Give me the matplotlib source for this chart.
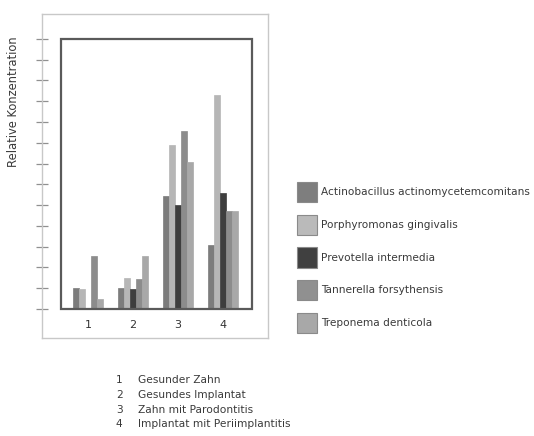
import matplotlib
matplotlib.use("Agg")
import matplotlib.pyplot as plt
from matplotlib.patches import Rectangle, Patch
import numpy as np

plt.rcParams['font.family'] = ['DejaVu Sans']

# data (relative concentration)
categories = ["1", "2", "3", "4"]
species = ["Actinobacillus actinomycetemcomitans", "Porphyromonas gingivalis",
           "Prevotella intermedia", "Tannerella forsythensis", "Treponema denticola"]
actino = [1.0, 1.0, 5.45, 3.1]
porphy = [0.95, 1.5, 7.9, 10.3]
prevo = [0.05, 0.95, 5.0, 5.6]
tanner = [2.55, 1.45, 8.55, 4.7]
trepo = [0.5, 2.55, 7.05, 4.7]
series = [actino, porphy, prevo, tanner, trepo]
colors = ["#7c7c7c", "#b6b6b6", "#3e3e3e", "#8c8c8c", "#a8a8a8"]
legend_colors = ["#7e7e7e", "#bababa", "#404040", "#909090", "#a8a8a8"]
group_names = ["Gesunder Zahn", "Gesundes Implantat", "Zahn mit Parodontitis",
               "Implantat mit Periimplantitis"]

fig = plt.figure(figsize=(5.34, 4.36), dpi=100)
ax = fig.add_axes([42/534, 1-338/436, 226/534, 324/436])

x = np.arange(1, len(categories) + 1)
w = 0.133
for i, (vals, c) in enumerate(zip(series, colors)):
    ax.bar(x + (i - 2) * w, vals, width=w, color=c, edgecolor=c, linewidth=0.5, zorder=2)

ax.set_xlim(-0.02, 5.0)
ax.set_ylim(-1.40, 14.2)

# inner box
ax.add_patch(Rectangle((0.4, 0), 4.24, 13, fill=False, edgecolor="#5a5a5a", linewidth=1.6, zorder=3))

# group labels inside the frame
for xi, lab in zip(x, categories):
    ax.text(xi, -0.77, lab, ha="center", va="center", fontsize=8, color="#333333")

ax.set_xticks([])
ax.set_yticks(np.arange(0, 14))
ax.set_yticklabels([])
ax.tick_params(axis="y", direction="inout", length=9, width=0.9, color="#909090")
for s in ax.spines.values():
    s.set_color("#c8c8c8")
    s.set_linewidth(1.0)

fig.text(14/534, 1-102/436, "Relative Konzentration", rotation=90, ha="center", va="center",
         fontsize=8.3, color="#3a3a3a")

handles = [Patch(facecolor=c, edgecolor="#8a8a8a", linewidth=0.8) for c in legend_colors]
fig.legend(handles, species, loc="upper left", bbox_to_anchor=(297/534, 1-182/436),
           frameon=False, borderpad=0, borderaxespad=0, fontsize=7.6,
           handlelength=1.9, handleheight=2.55, handletextpad=0.4, labelspacing=1.2,
           labelcolor="#3a3a3a")

for i, (num, name) in enumerate(zip(categories, group_names)):
    yy = 1 - (380 + i * 14.8) / 436
    fig.text(116/534, yy, num, ha="left", va="center", fontsize=7.7, color="#3a3a3a")
    fig.text(138/534, yy, name, ha="left", va="center", fontsize=7.7, color="#3a3a3a")

fig.savefig("out.png", dpi=100)
